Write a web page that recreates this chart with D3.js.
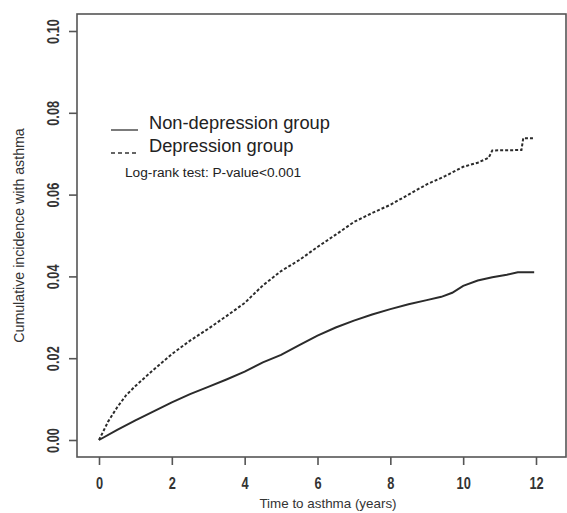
<!DOCTYPE html>
<html>
<head>
<meta charset="utf-8">
<script src="https://cdn.jsdelivr.net/npm/d3@7"></script>
<style>
  body { margin: 0; background: #fff; }
  svg { display: block; }
  .tick-lab { font-family: "Liberation Sans Narrow", "Arial Narrow", "Liberation Sans", Arial, sans-serif; font-weight: bold; font-size: 16px; fill: #333; }
</style>
</head>
<body>
<svg id="chart" width="567" height="513"></svg>
<script>
// Cumulative incidence (years, proportion)
const nonDepTime = [0, 0.5, 1, 1.5, 2, 2.5, 3, 3.5, 4, 4.5, 5, 5.5, 6, 6.5, 7, 7.5, 8, 8.5, 9, 9.4, 9.7, 10, 10.4, 10.8, 11.2, 11.5, 11.95];
const nonDepInc  = [0, 0.0025, 0.0048, 0.007, 0.0092, 0.0112, 0.013, 0.0148, 0.0167, 0.019, 0.0208, 0.0232, 0.0255, 0.0275, 0.0292, 0.0307, 0.032, 0.0332, 0.0342, 0.035, 0.036, 0.0377, 0.039, 0.0398, 0.0404, 0.041, 0.041];

const depTime = [0, 0.25, 0.5, 0.75, 1, 1.5, 2, 2.5, 3, 3.5, 4, 4.5, 5, 5.5, 6, 6.5, 7, 7.5, 8, 8.5, 9, 9.5, 10, 10.4, 10.7, 10.8, 11.6, 11.65, 11.95];
const depInc  = [0, 0.0045, 0.008, 0.011, 0.0132, 0.0172, 0.021, 0.0243, 0.0272, 0.0303, 0.0335, 0.0378, 0.0413, 0.044, 0.0472, 0.0502, 0.0533, 0.0555, 0.0575, 0.06, 0.0625, 0.0645, 0.0668, 0.0678, 0.069, 0.0708, 0.0709, 0.0738, 0.0738];

const xTicks = [0, 2, 4, 6, 8, 10, 12];
const yTicks = [0, 0.02, 0.04, 0.06, 0.08, 0.10];
const legendLabels = ['Non-depression group', 'Depression group'];
const testNote = 'Log-rank test: P-value<0.001';

const svg = d3.select('#chart');
const box = { left: 77, right: 566, top: 14, bottom: 457 };

const x = d3.scaleLinear().domain([0, 12]).range([99, 536]);
const y = d3.scaleLinear().domain([0, 0.10]).range([440, 31]);

// plot frame
svg.append('rect')
    .attr('x', box.left)
    .attr('y', box.top)
    .attr('width', box.right - box.left)
    .attr('height', box.bottom - box.top)
    .attr('fill', 'none')
    .attr('stroke', '#555')
    .attr('stroke-width', 1.6);

// narrow look for tick labels (no narrow font installed)
function condense(sel) {
    sel.each(function () {
        const w = this.getComputedTextLength();
        d3.select(this)
            .attr('textLength', w * 0.8)
            .attr('lengthAdjust', 'spacingAndGlyphs');
    });
}

// x axis
const xAxis = svg.append('g')
    .attr('transform', `translate(0,${box.bottom})`)
    .call(d3.axisBottom(x).tickValues(xTicks).tickSize(8).tickFormat(d3.format('d')));
xAxis.select('.domain').remove();
xAxis.selectAll('line').attr('stroke', '#555').attr('stroke-width', 1.6);
xAxis.selectAll('text').attr('class', 'tick-lab').attr('dy', null).attr('y', 32).call(condense);

// y axis
const yAxis = svg.append('g')
    .attr('transform', `translate(${box.left},0)`)
    .call(d3.axisLeft(y).tickValues(yTicks).tickSize(8).tickFormat(d3.format('.2f')));
yAxis.select('.domain').remove();
yAxis.selectAll('line').attr('stroke', '#555').attr('stroke-width', 1.6);
yAxis.selectAll('text')
    .attr('class', 'tick-lab')
    .attr('x', null).attr('dy', null)
    .attr('text-anchor', 'middle')
    .attr('transform', 'translate(-18,0) rotate(-90)')
    .call(condense);

// axis titles
svg.append('text')
    .attr('x', 328)
    .attr('y', 508)
    .attr('text-anchor', 'middle')
    .attr('font-family', 'Liberation Sans, Arial, sans-serif')
    .attr('font-size', 13.4)
    .attr('fill', '#333')
    .text('Time to asthma (years)');

svg.append('text')
    .attr('transform', `translate(24,${(box.top + box.bottom) / 2}) rotate(-90)`)
    .attr('text-anchor', 'middle')
    .attr('font-family', 'Liberation Sans, Arial, sans-serif')
    .attr('font-size', 14.2)
    .attr('fill', '#333')
    .text('Cumulative incidence with asthma');

// curves
const line = d3.line().x(d => x(d[0])).y(d => y(d[1]));

svg.append('path')
    .datum(d3.zip(nonDepTime, nonDepInc))
    .attr('d', line)
    .attr('fill', 'none')
    .attr('stroke', '#2b2b2b')
    .attr('stroke-width', 2);

svg.append('path')
    .datum(d3.zip(depTime, depInc))
    .attr('d', line)
    .attr('fill', 'none')
    .attr('stroke', '#2b2b2b')
    .attr('stroke-width', 2)
    .attr('stroke-dasharray', '3,2');

// legend
const legend = svg.append('g');
legendLabels.forEach((lab, i) => {
    const ly = 130 + i * 23;
    legend.append('line')
        .attr('x1', 111).attr('x2', 138)
        .attr('y1', ly).attr('y2', ly)
        .attr('stroke', '#333')
        .attr('stroke-width', 1.3)
        .attr('stroke-dasharray', i === 1 ? '4,3' : null);
    legend.append('text')
        .attr('x', 149)
        .attr('y', ly - 1)
        .attr('font-family', 'Liberation Sans, Arial, sans-serif')
        .attr('font-size', 18.3)
        .attr('fill', '#222')
        .text(lab);
});
legend.append('text')
    .attr('x', 125)
    .attr('y', 177)
    .attr('font-family', 'Liberation Sans, Arial, sans-serif')
    .attr('font-size', 13.7)
    .attr('fill', '#222')
    .text(testNote);
</script>
</body>
</html>
